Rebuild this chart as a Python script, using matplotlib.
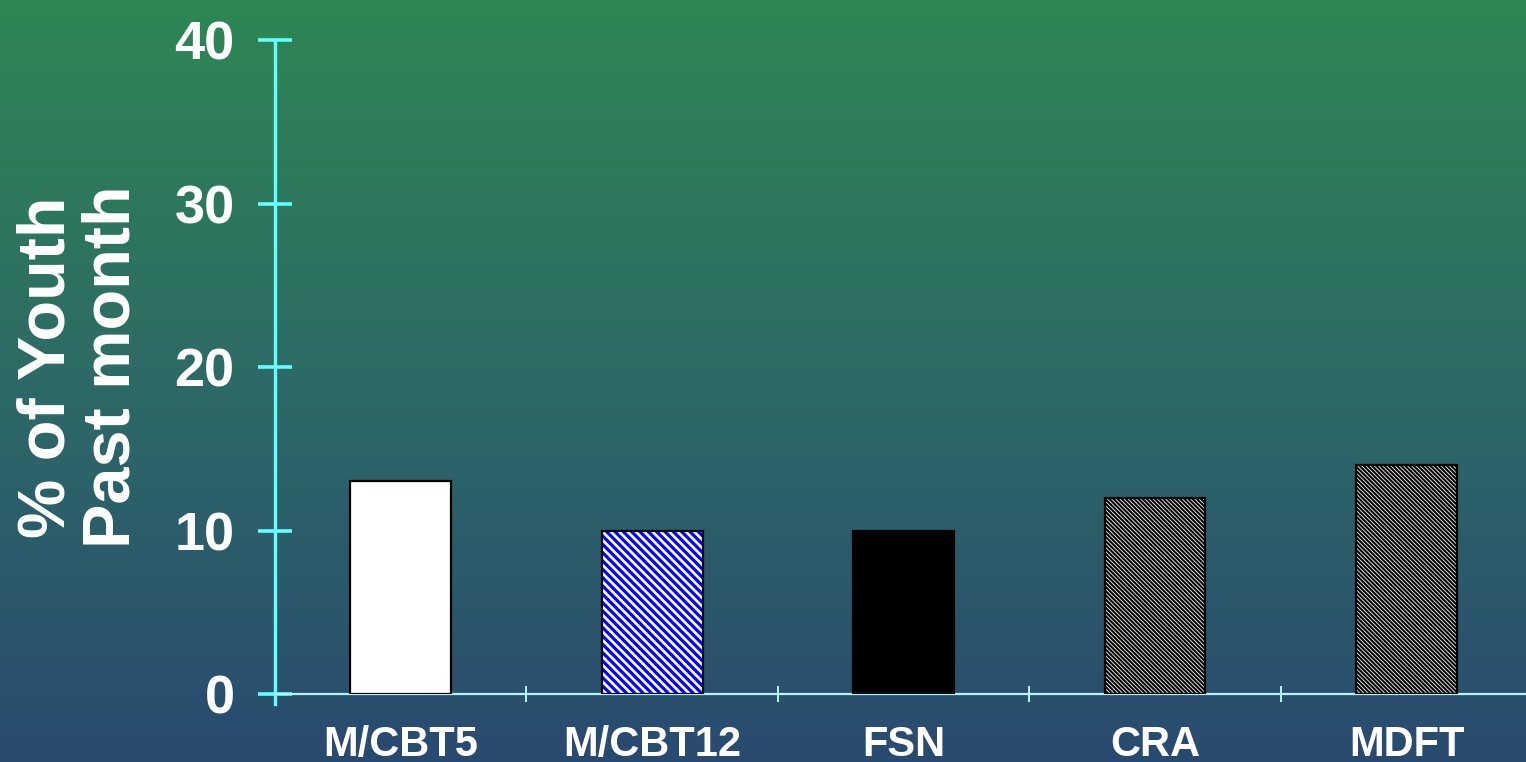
import numpy as np
import matplotlib
matplotlib.use("Agg")
import matplotlib.pyplot as plt
from matplotlib.colors import LinearSegmentedColormap

plt.rcParams['font.family'] = ['Liberation Sans', 'DejaVu Sans']
plt.rcParams['font.weight'] = 'bold'

# data
groups = ['M/CBT5', 'M/CBT12', 'FSN', 'CRA', 'MDFT']
pct_youth = [13, 10, 10, 12, 14]
y_ticks = [0, 10, 20, 30, 40]

# bar styles: face, hatch, hatch colour, hatch width
styles = [
    ('white', None, 'white', 1.0),
    ('white', '\\' * 4, '#0000ff', 2.3),
    ('black', None, 'black', 1.0),
    ('black', '\\' * 8, 'white', 0.6),
    ('black', '\\' * 8, 'white', 0.6),
]

fig = plt.figure(figsize=(15.26, 7.62), dpi=100)

# gradient background
bg = fig.add_axes([0, 0, 1, 1])
cmap = LinearSegmentedColormap.from_list('bg', ['#2e8754', '#2d6a66', '#294a70'])
grad = np.linspace(0, 1, 256).reshape(-1, 1)
bg.imshow(grad, aspect='auto', cmap=cmap, extent=[0, 1, 0, 1], origin='upper')
bg.axis('off')

ax = fig.add_axes([0.1802, 0.0892, 0.824, 0.8583])
ax.patch.set_alpha(0)
x = np.arange(len(groups))

for i, (val, (face, hatch, hcol, hlw)) in enumerate(zip(pct_youth, styles)):
    b = ax.bar(x[i], val, width=0.4, color=face, edgecolor=hcol, hatch=hatch,
               linewidth=0, zorder=2)
    if hatch:
        for p in b:
            try:
                p.set_hatch_linewidth(hlw)
            except AttributeError:
                plt.rcParams['hatch.linewidth'] = hlw
    ax.bar(x[i], val, width=0.4, fill=False, edgecolor='black', linewidth=1.6, zorder=3)

ax.set_xlim(-0.5, len(groups) - 0.5)
ax.set_ylim(0, 40)
ax.set_yticks(y_ticks)
ax.set_xticks(np.arange(len(groups) + 1) - 0.5, minor=False)
ax.set_xticklabels([])
ax.set_xticks(x, minor=True)
ax.set_xticklabels(groups, minor=True, fontsize=30, fontweight='bold', color='white')

for s in ['top', 'right']:
    ax.spines[s].set_visible(False)
ax.spines['left'].set_color('#66ffff')
ax.spines['left'].set_linewidth(2.4)
ax.spines['left'].set_bounds(-0.6, 40)
ax.spines['bottom'].set_color('#b4f6f6')
ax.spines['bottom'].set_linewidth(1.6)

ax.tick_params(axis='y', direction='inout', length=24, width=2.6, color='#66ffff',
               labelsize=39, labelcolor='white', pad=17)
ax.tick_params(axis='x', which='major', direction='inout', length=12, width=1.4,
               color='#b4f6f6')
ax.tick_params(axis='x', which='minor', length=0, pad=22)
for t in ax.get_yticklabels():
    t.set_fontweight('bold')

fig.text(80 / 1526, 1 - 367 / 762, '% of Youth\nPast month', rotation=90,
         ha='center', va='center', multialignment='center', linespacing=1.08,
         fontsize=48, fontweight='bold', color='white')

fig.savefig('out.png', dpi=100)
